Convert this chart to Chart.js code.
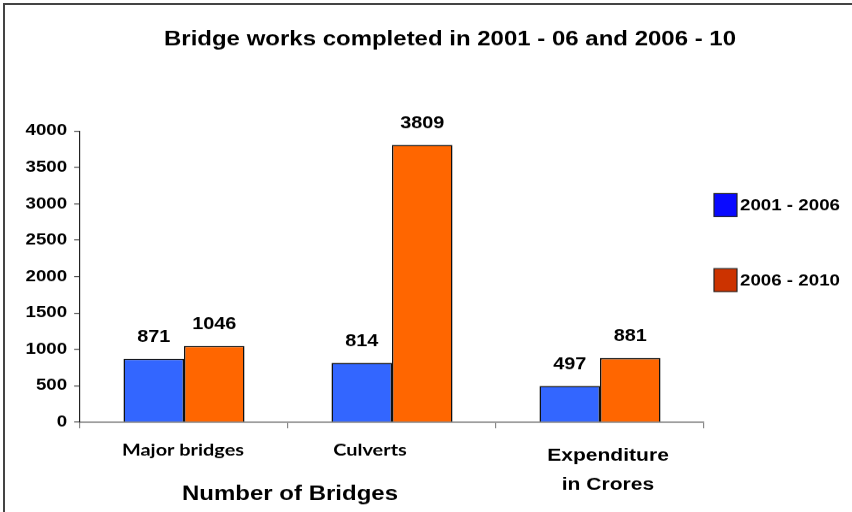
<!DOCTYPE html>
<html>
<head>
<meta charset="utf-8">
<script src="https://cdn.jsdelivr.net/npm/chart.js@4.4.1/dist/chart.umd.min.js"></script>
<style>
  html, body { margin: 0; padding: 0; background: #fff; }
  body { width: 852px; height: 512px; overflow: hidden; position: relative; }
  #frame { position: absolute; left: 3px; top: 3px; width: 900px; height: 600px;
           border-left: 2px solid #444; border-top: 2px solid #444; }
  /* the original picture is stretched sideways, so the chart is too */
  #wrap { position: absolute; left: 0; top: 0; width: 728px; height: 512px;
          transform: scaleX(1.1703); transform-origin: 0 0; }
</style>
</head>
<body>
<div id="frame"></div>
<div id="wrap"><canvas id="chart" width="728" height="512"></canvas></div>
<script>
const S = 852 / 728; // sideways stretch

// data
const categories = [["Major bridges"], ["Culverts"], ["Expenditure", "in Crores"]];
const seriesNames = ["2001 - 2006", "2006 - 2010"];
const works2001_06 = [871, 814, 497];
const works2006_10 = [1046, 3809, 881];
const yMin = 0, yMax = 4000, yStep = 500;
const titleText = "Bridge works completed in 2001 - 06 and 2006 - 10";
const xTitleText = "Number of Bridges";

const barColors = ["#3366FF", "#FF6600"];
const legendColors = ["#0A0AFF", "#CC3300"];

const ARIAL = '"Liberation Sans", Arial, sans-serif';

// value labels above the bars
const valueLabels = {
  id: "valueLabels",
  afterDatasetsDraw(chart) {
    const ctx = chart.ctx;
    ctx.save();
    ctx.font = "bold 17px " + ARIAL;
    ctx.fillStyle = "#000";
    ctx.textAlign = "center";
    ctx.textBaseline = "alphabetic";
    chart.data.datasets.forEach((ds, di) => {
      chart.getDatasetMeta(di).data.forEach((bar, i) => {
        ctx.fillText(ds.data[i], bar.x, bar.y - 17);
      });
    });
    ctx.restore();
  },
};

// title, category labels, axis title and legend
const extraText = {
  id: "extraText",
  afterDraw(chart) {
    const ctx = chart.ctx;
    const xs = chart.scales.x;
    ctx.save();
    ctx.fillStyle = "#000";
    ctx.textAlign = "center";
    ctx.textBaseline = "middle";

    ctx.font = "bold 20.5px " + ARIAL;
    ctx.fillText(titleText, 450 / S, 40);

    // category labels (not quite centred in the original)
    const shift = [-1, -22, 8];
    categories.forEach((lines, i) => {
      const cx = xs.getPixelForValue(i) + shift[i] / S;
      if (lines.length == 1) {
        ctx.font = "bold 17px Lato, " + ARIAL;
        ctx.fillText(lines[0], cx, 450);
      } else {
        ctx.font = "bold 18px " + ARIAL;
        lines.forEach((t, k) => ctx.fillText(t, cx, 456 + k * 29));
      }
    });

    ctx.font = "bold 20.5px " + ARIAL;
    ctx.fillText(xTitleText, 290 / S, 494);

    // legend
    ctx.textAlign = "left";
    ctx.font = "bold 16px " + ARIAL;
    seriesNames.forEach((name, i) => {
      const cy = 205 + i * 75;
      ctx.fillStyle = legendColors[i];
      ctx.fillRect(714 / S, cy - 11.5, 23 / S, 23);
      ctx.strokeStyle = "#222";
      ctx.lineWidth = 1;
      ctx.strokeRect(714 / S, cy - 11.5, 23 / S, 23);
      ctx.fillStyle = "#000";
      ctx.fillText(name, 740 / S, cy + 1);
    });
    ctx.restore();
  },
};

new Chart(document.getElementById("chart"), {
  type: "bar",
  data: {
    labels: categories,
    datasets: [
      {
        label: seriesNames[0],
        data: works2001_06,
        backgroundColor: barColors[0],
        borderColor: "#111",
        borderWidth: 1.3,
        categoryPercentage: 0.582,
        barPercentage: 1.0,
      },
      {
        label: seriesNames[1],
        data: works2006_10,
        backgroundColor: barColors[1],
        borderColor: "#111",
        borderWidth: 1.3,
        categoryPercentage: 0.582,
        barPercentage: 1.0,
      },
    ],
  },
  options: {
    responsive: false,
    animation: false,
    devicePixelRatio: S,
    layout: { padding: { left: 0, top: 131, right: 728 - 704 / S, bottom: 0 } },
    plugins: {
      legend: { display: false },
      title: { display: false },
      tooltip: { enabled: false },
    },
    scales: {
      x: {
        offset: true,
        grid: { offset: true, drawOnChartArea: false, tickLength: 6, color: "#888" },
        border: { color: "#888", width: 1.5 },
        ticks: { display: false },
        afterFit(scale) { scale.height = 90; },
      },
      y: {
        min: yMin,
        max: yMax,
        ticks: {
          stepSize: yStep,
          color: "#000",
          padding: 6,
          font: { family: ARIAL, size: 16, weight: "bold" },
          callback: (v) => String(v),
        },
        grid: { drawOnChartArea: false, tickLength: 5, color: "#444" },
        border: { color: "#222", width: 1 },
        afterFit(scale) { scale.width = 80 / S; },
      },
    },
  },
  plugins: [valueLabels, extraText],
});
</script>
</body>
</html>
